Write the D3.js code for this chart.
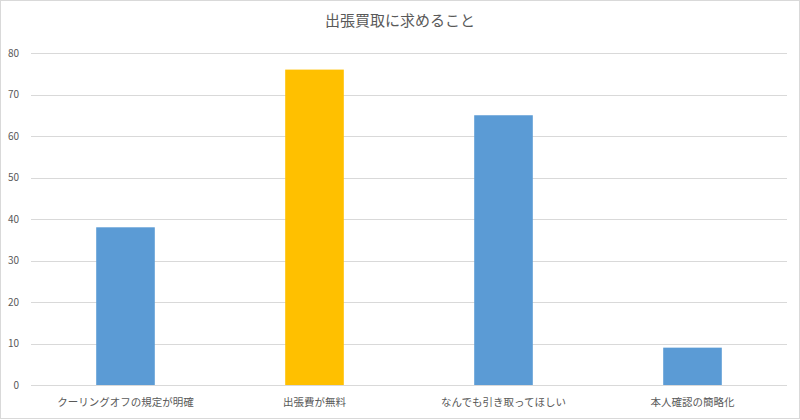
<!DOCTYPE html>
<html>
<head>
<meta charset="utf-8">
<script src="https://cdn.jsdelivr.net/npm/d3@7"></script>
<style>
  body { margin: 0; background: #fff; }
  text { font-family: "Noto Sans CJK JP", "Noto Sans", sans-serif; }
</style>
</head>
<body>
<svg width="800" height="420"></svg>
<script>
var categories = ["クーリングオフの規定が明確", "出張費が無料", "なんでも引き取ってほしい", "本人確認の簡略化"];
var values = [38, 76, 65, 9];
var barColors = ["#5b9bd5", "#ffc000", "#5b9bd5", "#5b9bd5"];
var yTicks = [0, 10, 20, 30, 40, 50, 60, 70, 80];

var svg = d3.select("svg"),
    margin = {top: 53, right: 13, bottom: 35, left: 31},
    width = 800 - margin.left - margin.right,
    height = 420 - margin.top - margin.bottom;

svg.append("rect")
    .attr("x", 0.5).attr("y", 0.5)
    .attr("width", 799).attr("height", 418)
    .attr("fill", "#fff")
    .attr("stroke", "#d9d9d9");

svg.append("text")
    .attr("x", 400).attr("y", 26)
    .attr("text-anchor", "middle")
    .attr("font-size", 15)
    .attr("fill", "#595959")
    .text("出張買取に求めること");

var g = svg.append("g").attr("transform", "translate(" + margin.left + "," + margin.top + ")");

var x = d3.scaleBand()
    .domain(categories)
    .range([0, width]);

var y = d3.scaleLinear()
    .domain([0, 80])
    .range([height, 0]);

// grid lines
g.append("g")
    .selectAll("line")
    .data(yTicks)
    .enter().append("line")
      .attr("x1", 0).attr("x2", width)
      .attr("y1", function(d) { return Math.round(y(d)) + 0.5; })
      .attr("y2", function(d) { return Math.round(y(d)) + 0.5; })
      .attr("stroke", "#d9d9d9");

g.append("g")
    .selectAll("text")
    .data(yTicks)
    .enter().append("text")
      .attr("x", -12)
      .attr("y", function(d) { return y(d); })
      .attr("dy", "0.35em")
      .attr("text-anchor", "end")
      .attr("font-size", 10)
      .attr("fill", "#595959")
      .text(function(d) { return d; });

var barW = x.bandwidth() * 0.31;

g.selectAll(".bar")
    .data(values)
    .enter().append("rect")
      .attr("class", "bar")
      .attr("x", function(d, i) { return x(categories[i]) + (x.bandwidth() - barW) / 2; })
      .attr("y", function(d) { return y(d); })
      .attr("width", barW)
      .attr("height", function(d) { return y(0) - y(d); })
      .attr("fill", function(d, i) { return barColors[i]; });

g.append("g")
    .selectAll("text")
    .data(categories)
    .enter().append("text")
      .attr("x", function(d) { return x(d) + x.bandwidth() / 2; })
      .attr("y", height + 21)
      .attr("text-anchor", "middle")
      .attr("font-size", 10.5)
      .attr("fill", "#595959")
      .text(function(d) { return d; });
</script>
</body>
</html>
